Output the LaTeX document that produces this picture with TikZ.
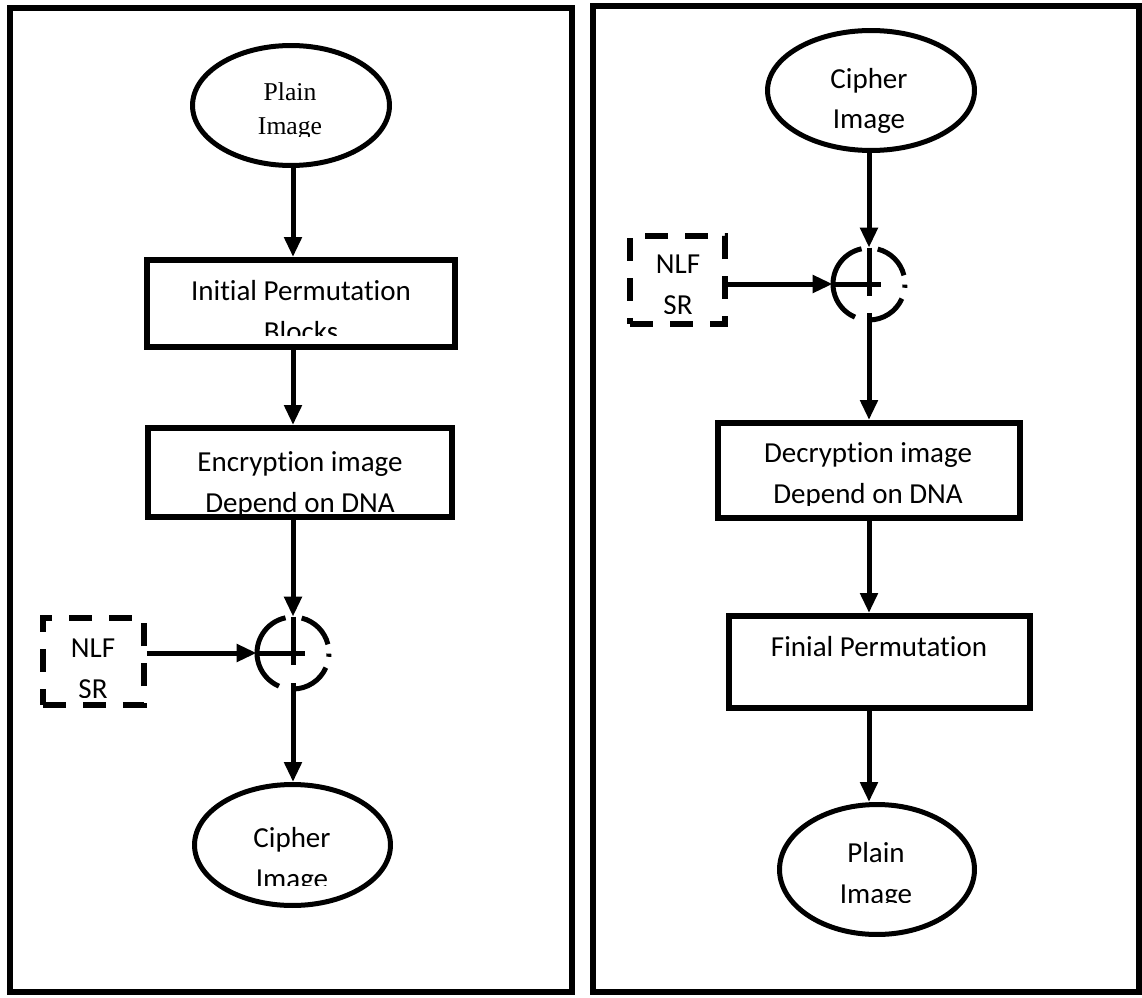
\documentclass[tikz,border=0pt]{standalone}
\usepackage{fontspec}
\setmainfont{Carlito}[Ligatures=NoCommon]
\newfontfamily\timesfont{Liberation Serif}
\usetikzlibrary{arrows.meta,shapes.geometric}

\begin{document}
\begin{tikzpicture}[x=0.02cm, y=0.02cm,
  frame/.style={line width=0.12cm},
  block/.style={draw, rectangle, line width=0.12cm, inner sep=0pt},
  oval/.style={draw, ellipse, line width=0.1cm, inner sep=0pt},
  nlfbox/.style={draw, rectangle, line width=0.12cm, dash pattern=on 0.46cm off 0.34cm, inner sep=0pt},
  xorc/.style={circle, minimum size=1.44cm, inner sep=0pt},
  xorline/.style={line width=0.1cm},
  arr/.style={-{Triangle[length=0.4cm,width=0.34cm]}, line width=0.1cm},
  txt/.style={font=\fontsize{16.5}{23.2}\selectfont, align=center, anchor=base, inner sep=0pt},
  serif/.style={font=\timesfont\fontsize{14.6}{19.1}\selectfont, align=center, anchor=base, inner sep=0pt}]

\useasboundingbox (0,0) rectangle (1142,-997);

% two panels
\draw[frame] (10,-8) rectangle (572,-992);
\draw[frame] (593,-6) rectangle (1139,-992);

% left panel: encryption
\node[oval, minimum width=3.94cm, minimum height=2.4cm] (lplain) at (291,-105.5) {};
\node[block, minimum width=6.16cm, minimum height=1.74cm] (init) at (301,-303.5) {};
\node[block, minimum width=6.08cm, minimum height=1.78cm] (enc) at (300,-472.5) {};
\node[xorc] (lxor) at (293,-653) {};
\node[nlfbox, minimum width=2.02cm, minimum height=1.74cm] (lnlf) at (93.5,-661.5) {};
\node[oval, minimum width=3.92cm, minimum height=2.42cm] (lcipher) at (292.5,-845) {};

% right panel: decryption
\node[oval, minimum width=4.14cm, minimum height=2.4cm] (rcipher) at (871,-90.5) {};
\node[xorc] (rxor) at (869,-284) {};
\node[nlfbox, minimum width=1.9cm, minimum height=1.76cm] (rnlf) at (677.5,-280) {};
\node[block, minimum width=6.04cm, minimum height=1.9cm] (dec) at (869,-470.5) {};
\node[block, minimum width=6.02cm, minimum height=1.84cm] (fin) at (879.5,-662) {};
\node[oval, minimum width=3.9cm, minimum height=2.6cm] (rplain) at (877,-869.5) {};

% texts, cut off at the bottom as in the boxes
\begin{scope}
\clip (195,-50) rectangle (387,-136);
\node[serif] (lplaint) at (290,-134) {Plain\\Image};
\end{scope}
\begin{scope}
\clip (152,-265) rectangle (450,-335);
\node[txt] (initt) at (301,-341) {Initial Permutation\\Blocks};
\end{scope}
\begin{scope}
\clip (152,-433) rectangle (448,-514);
\node[txt] (enct) at (300,-512) {Encryption image\\Depend on DNA};
\end{scope}
\begin{scope}
\clip (46,-621) rectangle (141,-697);
\node[txt] (lnlft) at (93,-698) {NLF\\SR};
\end{scope}
\begin{scope}
\clip (196,-787) rectangle (388,-885);
\node[txt] (lciphert) at (292,-888) {Cipher\\Image};
\end{scope}
\begin{scope}
\clip (772,-33) rectangle (970,-133);
\node[txt] (rciphert) at (869,-129) {Cipher\\Image};
\end{scope}
\begin{scope}
\clip (633,-239) rectangle (722,-313);
\node[txt] (rnlft) at (678,-314) {NLF\\SR};
\end{scope}
\begin{scope}
\clip (722,-427) rectangle (1016,-505);
\node[txt] (dect) at (868,-503) {Decryption image\\Depend on DNA};
\end{scope}
\node[txt] (fint) at (879,-656) {Finial Permutation};
\begin{scope}
\clip (782,-807) rectangle (972,-902);
\node[txt] (rplaint) at (876,-903) {Plain\\Image};
\end{scope}

% xor symbols: broken circle with a plus
\foreach \c in {lxor,rxor} {
  \draw[xorline] ([shift={(102:0.72cm)}]\c.center) arc[start angle=102, end angle=247, radius=0.72cm];
  \draw[xorline] ([shift={(76:0.72cm)}]\c.center) arc[start angle=76, end angle=14, radius=0.72cm];
  \draw[xorline] ([shift={(-1:0.72cm)}]\c.center) arc[start angle=-1, end angle=-6, radius=0.72cm];
  \draw[xorline] ([shift={(-24:0.72cm)}]\c.center) arc[start angle=-24, end angle=-90, radius=0.72cm];
  \draw[xorline] (\c.north) -- ([yshift=-0.24cm]\c.center);
  \draw[xorline] (\c.west) -- ([xshift=0.24cm]\c.center);
}
\coordinate (lout) at ([yshift=-0.6cm]lxor.center);
\coordinate (rout) at ([yshift=-0.58cm]rxor.center);

% connectors
\draw[arr] (lxor |- lplain.south) -- (lxor |- init.north);
\draw[arr] (lxor |- init.south) -- (lxor |- enc.north);
\draw[arr] (lxor |- enc.south) -- (lxor.north);
\draw[arr] (lnlf.east |- lxor.west) -- (lxor.west);
\draw[arr] (lout) -- (lxor |- lcipher.north);

\draw[arr] (rxor |- rcipher.south) -- (rxor.north);
\draw[arr] (rnlf.east |- rxor.west) -- (rxor.west);
\draw[arr] (rout) -- (rxor |- dec.north);
\draw[arr] (rxor |- dec.south) -- (rxor |- fin.north);
\draw[arr] (rxor |- fin.south) -- (rxor |- rplain.north);

\end{tikzpicture}
\end{document}
